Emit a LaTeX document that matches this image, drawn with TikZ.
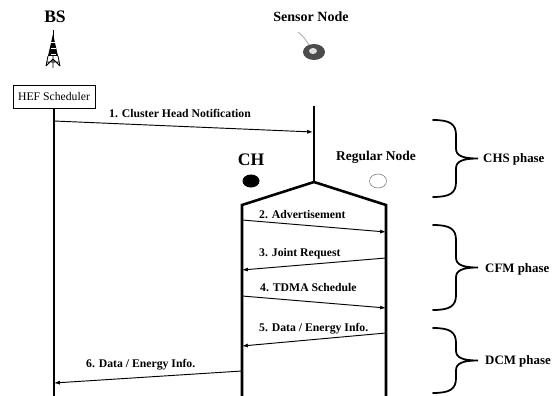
\documentclass[tikz,border=0pt]{standalone}
\usepackage{fontspec}
\setmainfont{Liberation Serif}
\usetikzlibrary{arrows.meta,shapes.geometric}

\tikzset{
  life/.style={line width=2.2pt},
  msg/.style={-{Latex[length=5pt,width=3.5pt]},line width=0.8pt},
  msglabel/.style={anchor=west,inner sep=0pt,font=\fontsize{10}{12}\bfseries\selectfont},
  phasebrace/.style={line width=1.5pt,line cap=round},
  phaselabel/.style={anchor=west,inner sep=0pt,font=\fontsize{11}{13}\bfseries\selectfont},
}

\begin{document}
\begin{tikzpicture}[x=0.03cm,y=-0.03cm]
\useasboundingbox (0,0) rectangle (553,396);

% base station
\node[font=\fontsize{15}{17}\bfseries\selectfont] (bs) at (55,17) {BS};
\draw[line width=0.8pt] (53,30)--(53,38);
\fill (53,34)--(48,56)--(58,56)--cycle;
\foreach \y in {42,48,54}
    \draw[white,line width=0.3pt] (50.5,\y)--(55.5,\y);
\draw[line width=0.7pt] (48,56)--(46,66) (58,56)--(60,66)
    (46,66)--(53,59)--(60,66) (47,62)--(59,62) (53,56)--(53,68);
\node[draw,line width=0.8pt,minimum width=2.46cm,minimum height=0.69cm,
    inner sep=0pt,font=\fontsize{10}{12}\selectfont] (hef) at (54,96.5) {HEF Scheduler};

% sensor node
\node[font=\fontsize{12}{14}\bfseries\selectfont] (sn) at (311,17) {Sensor Node};
\draw[gray!60,line width=0.8pt] (298,32) to[bend left=10] (309,45);
\fill[gray!60!black] (314,52) ellipse (11 and 8);
\fill[gray!25] (313,51) ellipse (4 and 3);

\node[font=\fontsize{15}{17}\bfseries\selectfont] (ch) at (251,160) {CH};
\node[font=\fontsize{11.5}{13}\bfseries\selectfont] (rn) at (376,157) {Regular Node};
\node[ellipse,fill,minimum width=0.51cm,minimum height=0.39cm,inner sep=0pt] (chdot) at (251,181) {};
\node[ellipse,draw=gray,line width=0.5pt,minimum width=0.51cm,minimum height=0.42cm,inner sep=0pt] (rndot) at (378,181) {};

% lifelines
\coordinate (bsend) at (54,396);
\coordinate (sntop) at (314,106);
\coordinate (apex) at (314,182);
\coordinate (chsh) at (242,205);
\coordinate (rnsh) at (386,205);
\coordinate (chend) at (242,396);
\coordinate (rnend) at (386,396);
\draw[life] (hef.south)--(bsend);
\draw[life] (sntop)--(apex);
\draw[life,line join=miter] (chend)--(chsh)--(apex)--(rnsh)--(rnend);

% messages
\coordinate (m1a) at (54,121);  \coordinate (m1b) at (313,132);
\coordinate (m2a) at (242,220); \coordinate (m2b) at (386,232);
\coordinate (m3a) at (386,258); \coordinate (m3b) at (242,270);
\coordinate (m4a) at (242,296); \coordinate (m4b) at (386,308);
\coordinate (m5a) at (386,333); \coordinate (m5b) at (242,346);
\coordinate (m6a) at (242,371); \coordinate (m6b) at (54,383);
\draw[msg] (m1a)--(m1b);
\draw[msg] (m2a)--(m2b);
\draw[msg] (m3a)--(m3b);
\draw[msg] (m4a)--(m4b);
\draw[msg] (m5a)--(m5b);
\draw[msg] (m6a)--(m6b);
\node[msglabel] (l1) at (109,113) {1. Cluster Head Notification};
\node[msglabel] (l2) at (259,215) {2. Advertisement};
\node[msglabel] (l3) at (259,254) {3. Joint Request};
\node[msglabel] (l4) at (260,288) {4. TDMA Schedule};
\node[msglabel] (l5) at (259,329) {5. Data / Energy Info.};
\node[msglabel] (l6) at (86,365) {6. Data / Energy Info.};

% phases
\foreach \t/\b in {120/197,225/310,328/393}
{
    \pgfmathsetmacro\m{(\t+\b)/2}
    \draw[phasebrace] (433,\t) .. controls (450,\t) and (456,\t+4) .. (456,\t+15)
        -- (456,\m-10) .. controls (456,\m-3) and (462,\m) .. (478,\m)
        .. controls (462,\m) and (456,\m+3) .. (456,\m+10)
        -- (456,\b-15) .. controls (456,\b-4) and (450,\b) .. (433,\b);
}
\node[phaselabel] (chs) at (483,159) {CHS phase};
\node[phaselabel] (cfm) at (485,269) {CFM phase};
\node[phaselabel] (dcm) at (485,361) {DCM phase};
\end{tikzpicture}
\end{document}
